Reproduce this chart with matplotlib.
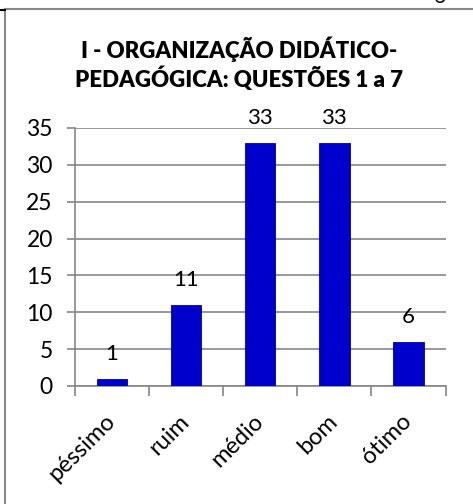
import matplotlib
matplotlib.use('Agg')
import matplotlib.pyplot as plt
from matplotlib.lines import Line2D

plt.rcParams['font.family'] = ['Lato', 'DejaVu Sans']

categorias = ['péssimo', 'ruim', 'médio', 'bom', 'ótimo']
respostas = [1, 11, 33, 33, 6]
yticks = [0, 5, 10, 15, 20, 25, 30, 35]
titulo = 'I - ORGANIZAÇÃO DIDÁTICO-\nPEDAGÓGICA: QUESTÕES 1 a 7'

W, H = 473, 504
fig = plt.figure(figsize=(W / 100, H / 100), dpi=100)
fig.patch.set_facecolor('white')

# area do grafico (pixels convertidos)
left, right, top, bottom = 75, 445.5, 128, 386
ax = fig.add_axes([left / W, 1 - bottom / H, (right - left) / W, (bottom - top) / H])

x = range(len(categorias))
ax.bar(x, respostas, width=0.41, color='#0000CC', edgecolor='#00009a', linewidth=0.6, zorder=3)
for xi, v in zip(x, respostas):
    ax.text(xi, v + 2.0, str(v), ha='center', va='bottom', fontsize=16, color='black')

ax.set_xlim(-0.5, len(categorias) - 0.5)
ax.set_ylim(0, 35)
ax.set_yticks(yticks)
ax.set_yticklabels([str(t) for t in yticks], fontsize=16.5)
ax.yaxis.grid(True, color='#868686', linewidth=1.2, zorder=0)
ax.set_axisbelow(True)

ax.set_xticks([i - 0.5 for i in range(len(categorias) + 1)])
ax.set_xticklabels([])
ax.set_xticks(list(x), minor=True)
ax.set_xticklabels(categorias, minor=True, rotation=45, ha='right', va='center',
                   rotation_mode='anchor', fontsize=17)
ax.tick_params(axis='x', which='minor', length=0, pad=23)
ax.tick_params(axis='x', which='major', length=7, color='#868686', width=1.2)
ax.tick_params(axis='y', length=6, color='#868686', width=1.2, pad=10)

for s in ['top', 'right']:
    ax.spines[s].set_visible(False)
for s in ['left', 'bottom']:
    ax.spines[s].set_color('#868686')
    ax.spines[s].set_linewidth(1.2)

fig.text(239 / W, 1 - 64 / H, titulo, ha='center', va='center', fontsize=16,
         fontweight='heavy', linespacing=1.22)

# bordas da planilha recortada
fig.add_artist(Line2D([5 / W, 5 / W], [0, 1 - 9 / H], color='#888888', linewidth=1.5))
fig.add_artist(Line2D([5 / W, 1], [1 - 9 / H, 1 - 9 / H], color='#888888', linewidth=1.5))
fig.add_artist(Line2D([0, 5 / W], [1 - 10 / H, 1 - 10 / H], color='black', linewidth=1.5))
fig.text(440 / W, 1 - 7 / H, '6', ha='center', va='bottom', fontsize=15)

fig.savefig('out.png', dpi=100)
